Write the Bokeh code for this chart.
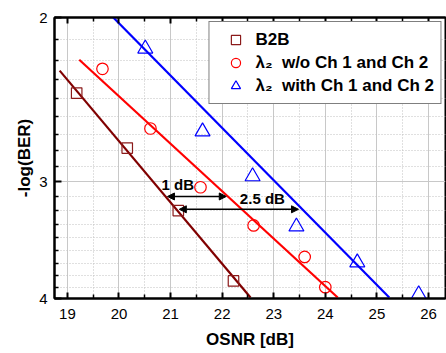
from bokeh.plotting import figure
from bokeh.models import (Range1d, FixedTicker, LinearAxis, BasicTickFormatter,
                          Arrow, NormalHead, ColumnDataSource, Title)
from bokeh.core.properties import value
from bokeh.embed import file_html
from bokeh.resources import INLINE

# ---- data ----
b2b_osnr = [19.18, 20.16, 21.15, 22.22]
b2b_q = [2.41, 2.76, 3.22, 3.83]

wo_osnr = [19.68, 20.61, 21.58, 22.61, 23.60, 24.00]
wo_q = [2.27, 2.63, 3.04, 3.34, 3.61, 3.89]

with_osnr = [20.51, 21.62, 22.59, 23.44, 24.62, 25.81]
with_q = [2.16, 2.65, 2.96, 3.35, 3.66, 3.96]

fit_b2b_x = [18.85, 22.55]
fit_b2b_y = [2.28, 3.99]
fit_wo_x = [19.23, 24.24]
fit_wo_y = [2.22, 3.99]
fit_with_x = [19.89, 25.24]
fit_with_y = [2.00, 3.99]

arrow_x0 = [20.94, 21.17]
arrow_x1 = [22.08, 23.48]
arrow_y = [3.11, 3.21]

note_x = [21.14, 22.78]
note_y = [3.02, 3.125]
note_text = ["1 dB", "2.5 dB"]

x_major = [19, 20, 21, 22, 23, 24, 25, 26]
x_minor = [18.5, 19.5, 20.5, 21.5, 22.5, 23.5, 24.5, 25.5, 26.5]
y_major = [2, 3, 4]
y_minor = [2 + k / 9 for k in range(1, 9)] + [3 + k / 9 for k in range(1, 9)]

FONT = "Liberation Sans"
X_START, X_END = 18.75, 26.33

p = figure(width=446, height=353,
           x_range=Range1d(X_START, X_END), y_range=Range1d(4, 2),
           y_axis_type="log", output_backend="svg", toolbar_location=None,
           min_border_left=54, min_border_right=1, min_border_top=17,
           min_border_bottom=55)

xticker = FixedTicker(ticks=x_major, minor_ticks=x_minor)
yticker = FixedTicker(ticks=y_major, minor_ticks=y_minor)

# grids
p.xgrid.ticker = xticker
p.ygrid.ticker = yticker
for g in (p.xgrid[0], p.ygrid[0]):
    g.grid_line_color = "#c8c8c8"
    g.grid_line_width = 1
    g.minor_grid_line_color = "#c0c0c0"
    g.minor_grid_line_dash = "1 2"
    g.minor_grid_line_width = 1

# axes
xa = p.xaxis[0]
xa.ticker = xticker
ya = p.yaxis[0]
ya.ticker = yticker
ya.formatter = BasicTickFormatter()

top = LinearAxis(ticker=xticker, major_label_text_font_size="1px",
                 major_label_text_color=None, major_label_standoff=0)
p.add_layout(top, "above")

for ax in (xa, ya, top):
    ax.axis_line_color = "black"
    ax.axis_line_width = 2
    ax.major_tick_in = 6
    ax.major_tick_out = 0
    ax.minor_tick_in = 4
    ax.minor_tick_out = 0
    ax.major_tick_line_width = 2
    ax.minor_tick_line_width = 1.5
    ax.major_tick_line_color = "black"
    ax.minor_tick_line_color = "black"
    ax.major_label_text_font = FONT
    ax.axis_label_text_font = FONT
    ax.axis_label_text_font_style = "bold"
    ax.axis_label_text_color = "black"
    ax.axis_label_text_font_size = "17px"

for ax in (xa, ya):
    ax.major_label_text_color = "black"
    ax.major_label_text_font_size = "15px"

ya.major_tick_in = 7
xa.major_label_standoff = 10
xa.axis_label_standoff = 8
ya.major_label_standoff = 7
xa.axis_label = "OSNR [dB]"

# y-axis title, shifted down a little like the reference
p.add_layout(Title(text="-log(BER)", align="center", vertical_align="bottom",
                   offset=-13, standoff=6,
                   text_font=FONT, text_font_style="bold", text_font_size="17px",
                   text_color="black"), "left")

p.outline_line_color = "black"
p.outline_line_width = 2

# fit lines
p.line(fit_b2b_x, fit_b2b_y, line_color="#800000", line_width=2.2)
p.line(fit_wo_x, fit_wo_y, line_color="#ff0000", line_width=2.2)
p.line(fit_with_x, fit_with_y, line_color="#0000ff", line_width=2.2)

# markers
p.scatter(b2b_osnr, b2b_q, marker="square", size=10.5, fill_color=None,
          line_color="#8b1a1a", line_width=1.2, legend_label="B2B")
p.scatter(wo_osnr, wo_q, marker="circle", size=11.5, fill_color=None,
          line_color="#ff0000", line_width=1.2, legend_label="λ₂  w/o Ch 1 and Ch 2")
p.scatter(with_osnr, with_q, marker="triangle", size=15, fill_color=None,
          line_color="#0000ff", line_width=1.2, legend_label="λ₂  with Ch 1 and Ch 2")

# arrows and notes
asrc = ColumnDataSource(dict(x0=arrow_x0, x1=arrow_x1, y=arrow_y))
p.add_layout(Arrow(x_start="x0", y_start="y", x_end="x1", y_end="y", source=asrc,
                   line_width=1.5, line_color="black",
                   start=NormalHead(size=7, fill_color="black", line_color="black"),
                   end=NormalHead(size=7, fill_color="black", line_color="black")))
p.text(x=note_x, y=note_y, text=note_text, text_font=value(FONT),
       text_font_style="bold", text_font_size="15px", text_align="center",
       text_baseline="middle", text_color="black")

lg = p.legend[0]
lg.location = "top_right"
lg.margin = 4
lg.padding = 6
lg.spacing = 0
lg.glyph_height = 23
lg.glyph_width = 40
lg.label_height = 23
lg.label_standoff = 0
lg.label_text_font = FONT
lg.label_text_font_style = "bold"
lg.label_text_font_size = "17px"
lg.label_text_color = "black"
lg.border_line_color = "black"
lg.border_line_width = 1.5
lg.background_fill_alpha = 1

open("out.html", "w").write(file_html(p, INLINE))
